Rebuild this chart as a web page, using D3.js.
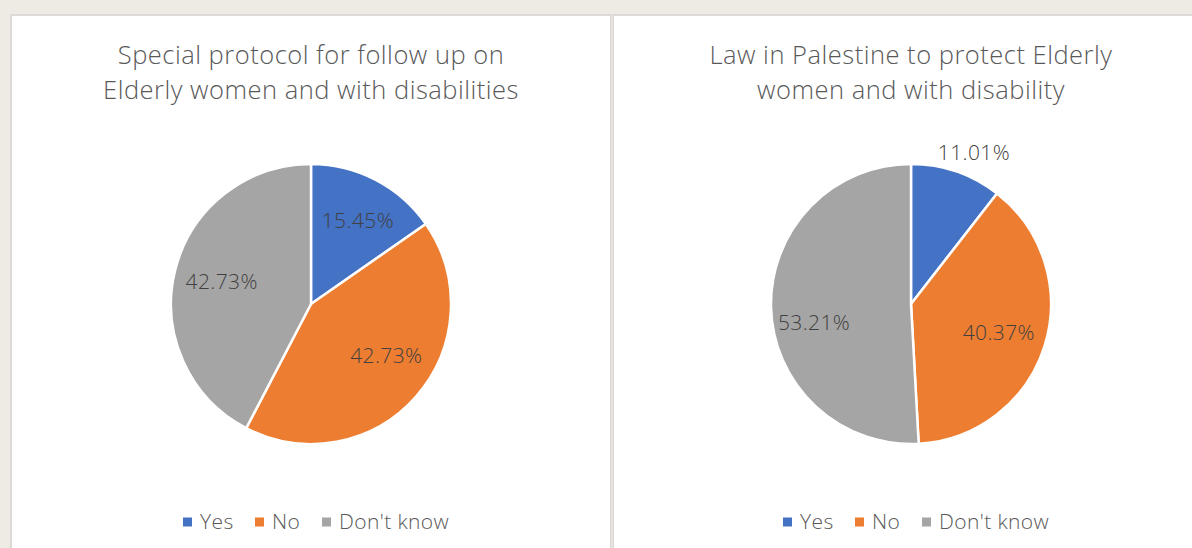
<!DOCTYPE html>
<html>
<head>
<meta charset="utf-8">
<script src="https://cdn.jsdelivr.net/npm/d3@7"></script>
<style>
  html, body { margin: 0; padding: 0; background: #eeeae4; }
  svg { display: block; }
</style>
</head>
<body>
<svg id="chart" width="1192" height="548"></svg>
<script>
// Answer categories shared by both pies
const categories = ["Yes", "No", "Don't know"];

// Chart 1: special protocol for follow up
const protocolTitle = ["Special protocol for follow up on", "Elderly women and with disabilities"];
const protocolValues = [15.45, 42.73, 42.73];

// Chart 2: law in Palestine
const lawTitle = ["Law in Palestine to protect Elderly", "women and with disability"];
const lawValues = [11.01, 40.37, 53.21];

const colors = ["#4472C4", "#ED7D31", "#A5A5A5"];

const svg = d3.select("#chart");
const W = 1192, H = 548;

// panel frame
svg.append("rect").attr("x", 10).attr("y", 14).attr("width", W).attr("height", H)
  .attr("fill", "#dcdad6");
svg.append("rect").attr("x", 611).attr("y", 15).attr("width", 2).attr("height", H)
  .attr("fill", "#e6e3df");
svg.append("rect").attr("x", 12).attr("y", 16).attr("width", 598).attr("height", H)
  .attr("fill", "#ffffff");
svg.append("rect").attr("x", 614).attr("y", 16).attr("width", W - 614).attr("height", H)
  .attr("fill", "#ffffff");

const font = "'Open Sans', Lato, sans-serif";

// label placement: distance from centre along the slice bisector, plus a nudge
const charts = [
  { title: protocolTitle, values: protocolValues, cx: 311, cy: 304,
    labelR: [97, 91, 92], labelShift: [[2, 3], [7, -8], [0, 0]], legendX: 183 },
  { title: lawTitle, values: lawValues, cx: 911, cy: 304,
    labelR: [163, 92, 98], labelShift: [[10, 3], [0, 1], [1, 16]], legendX: 783 }
];

const r = 140;
const pie = d3.pie().sort(null).value(d => d);
const arc = d3.arc().innerRadius(0).outerRadius(r);

charts.forEach(c => {
  const g = svg.append("g");

  // title
  const t = g.append("text")
    .attr("x", c.cx).attr("y", 64)
    .attr("text-anchor", "middle")
    .attr("font-family", font).attr("font-size", 25.5).attr("font-weight", 300)
    .attr("letter-spacing", 0.5)
    .attr("fill", "#595959");
  c.title.forEach((line, i) => {
    t.append("tspan").attr("x", c.cx).attr("dy", i === 0 ? 0 : 35).text(line);
  });

  // slices
  const arcs = pie(c.values);
  const pg = g.append("g").attr("transform", `translate(${c.cx},${c.cy})`);
  pg.selectAll("path").data(arcs).join("path")
    .attr("d", arc)
    .attr("fill", (d, i) => colors[i])
    .attr("stroke", "#ffffff")
    .attr("stroke-width", 2.5)
    .attr("stroke-linejoin", "round");

  // data labels
  pg.selectAll("text.lbl").data(arcs).join("text")
    .attr("class", "lbl")
    .attr("x", (d, i) => {
      const a = (d.startAngle + d.endAngle) / 2;
      return Math.sin(a) * c.labelR[i] + c.labelShift[i][0];
    })
    .attr("y", (d, i) => {
      const a = (d.startAngle + d.endAngle) / 2;
      return -Math.cos(a) * c.labelR[i] + c.labelShift[i][1];
    })
    .attr("dy", "0.35em")
    .attr("text-anchor", "middle")
    .attr("font-family", font).attr("font-size", 21).attr("font-weight", 300)
    .attr("letter-spacing", 0.4)
    .attr("fill", "#404040")
    .text(d => d.data.toFixed(2) + "%");

  // legend
  const lg = g.append("g").attr("transform", `translate(${c.legendX},522)`);
  const offsets = [0, 72, 139];
  categories.forEach((cat, i) => {
    const item = lg.append("g").attr("transform", `translate(${offsets[i]},0)`);
    item.append("rect").attr("x", 0).attr("y", -4.5).attr("width", 9).attr("height", 9)
      .attr("fill", colors[i]);
    item.append("text").attr("x", 17).attr("y", 0).attr("dy", "0.35em")
      .attr("font-family", font).attr("font-size", 21).attr("font-weight", 300)
      .attr("letter-spacing", 0.4)
      .attr("fill", "#595959").text(cat);
  });
});
</script>
</body>
</html>
